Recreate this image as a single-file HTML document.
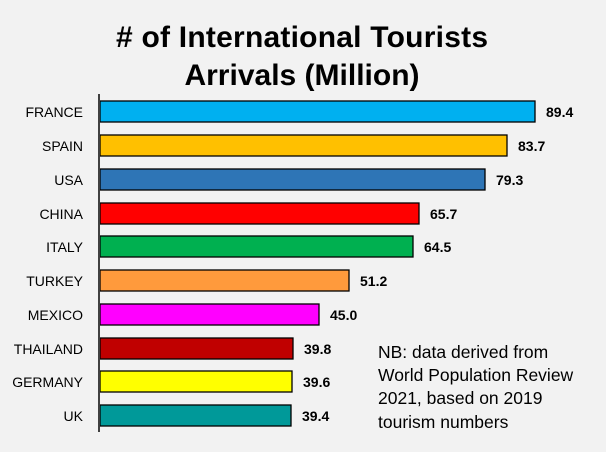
<!DOCTYPE html>
<html><head><style>
body{margin:0;background:#f2f2f2;}
svg{display:block;font-family:"Liberation Sans",sans-serif;}
</style></head><body>
<svg width="606" height="452" viewBox="0 0 606 452">
<rect width="606" height="452" fill="#f2f2f2"/>
<text x="302" y="47" text-anchor="middle" font-size="30" font-weight="bold" fill="#000" textLength="372">#&#160;of International Tourists</text>
<text x="302" y="85" text-anchor="middle" font-size="30" font-weight="bold" fill="#000">Arrivals (Million)</text>
<g stroke="#000" stroke-width="1.3">
<rect x="100" y="101" width="435" height="21" fill="#00b0f0"/>
<rect x="100" y="135" width="407" height="21" fill="#ffc000"/>
<rect x="100" y="169" width="385" height="21" fill="#2e75b6"/>
<rect x="100" y="203" width="319" height="21" fill="#ff0000"/>
<rect x="100" y="236" width="313" height="21" fill="#00b050"/>
<rect x="100" y="270" width="249" height="21" fill="#ff9a3c"/>
<rect x="100" y="304" width="219" height="21" fill="#ff00ff"/>
<rect x="100" y="338" width="193" height="21" fill="#c00000"/>
<rect x="100" y="371" width="192" height="21" fill="#ffff00"/>
<rect x="100" y="405" width="191" height="21" fill="#009999"/>
</g>
<line x1="99" y1="94" x2="99" y2="432" stroke="#404040" stroke-width="2"/>
<g font-size="14" text-anchor="end" fill="#000">
<text x="83" y="117">FRANCE</text>
<text x="83" y="151">SPAIN</text>
<text x="83" y="185">USA</text>
<text x="83" y="219">CHINA</text>
<text x="83" y="252">ITALY</text>
<text x="83" y="286">TURKEY</text>
<text x="83" y="320">MEXICO</text>
<text x="83" y="354">THAILAND</text>
<text x="83" y="387">GERMANY</text>
<text x="83" y="421">UK</text>
</g>
<g font-size="14" font-weight="bold" fill="#000">
<text x="546" y="117">89.4</text>
<text x="518" y="151">83.7</text>
<text x="496" y="185">79.3</text>
<text x="430" y="219">65.7</text>
<text x="424" y="252">64.5</text>
<text x="360" y="286">51.2</text>
<text x="330" y="320">45.0</text>
<text x="304" y="354">39.8</text>
<text x="303" y="387">39.6</text>
<text x="302" y="421">39.4</text>
</g>
<g font-size="17.5" fill="#000">
<text x="378" y="358">NB: data derived from</text>
<text x="378" y="381">World Population Review</text>
<text x="378" y="404">2021, based on 2019</text>
<text x="378" y="428">tourism numbers</text>
</g>
</svg>
</body></html>
